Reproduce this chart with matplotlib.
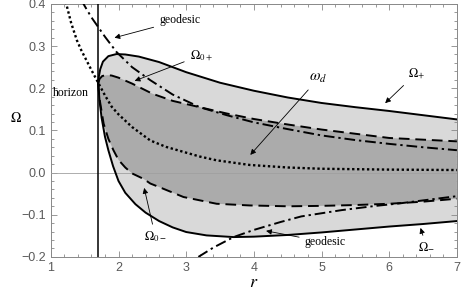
import numpy as np
import matplotlib
matplotlib.use("Agg")
import matplotlib.pyplot as plt

plt.rcParams['mathtext.fontset'] = 'stix'
plt.rcParams['font.family'] = 'Liberation Serif'

# horizon
r_h = 1.70

# outer boundary (solid)
r_plus = [1.70, 1.71, 1.73, 1.77, 1.85, 1.97, 2.1, 2.3, 2.6, 3.0, 3.5, 4.0, 4.5, 5.0, 5.5, 6.0, 6.5, 7.0]
om_plus = [0.211, 0.228, 0.245, 0.263, 0.276, 0.281, 0.280, 0.275, 0.262, 0.238, 0.213, 0.194, 0.178, 0.165, 0.155, 0.146, 0.136, 0.126]
r_minus = [1.70, 1.72, 1.75, 1.8, 1.85, 1.92, 2.0, 2.1, 2.25, 2.4, 2.6, 2.8, 3.0, 3.3, 3.7, 4.0, 4.5, 5.0, 5.5, 6.0, 6.5, 7.0]
om_minus = [0.211, 0.17, 0.13, 0.085, 0.053, 0.015, -0.02, -0.048, -0.075, -0.095, -0.115, -0.13, -0.141, -0.149, -0.153, -0.152, -0.148, -0.142, -0.135, -0.128, -0.122, -0.115]

# inner boundary (dashed)
r_0p = [1.70, 1.72, 1.76, 1.83, 1.9, 2.0, 2.2, 2.5, 2.8, 3.2, 3.6, 4.0, 4.5, 5.0, 5.5, 6.0, 6.5, 7.0]
om_0p = [0.211, 0.222, 0.229, 0.231, 0.230, 0.225, 0.211, 0.187, 0.170, 0.155, 0.140, 0.127, 0.114, 0.102, 0.092, 0.082, 0.078, 0.074]
r_0m = [1.70, 1.72, 1.75, 1.78, 1.85, 1.925, 2.0, 2.1, 2.2, 2.37, 2.47, 2.61, 2.96, 3.45, 3.94, 4.5, 5.0, 5.5, 6.0, 6.5, 7.0]
om_0m = [0.211, 0.175, 0.145, 0.116, 0.08, 0.053, 0.030, 0.012, -0.002, -0.015, -0.026, -0.035, -0.058, -0.074, -0.078, -0.080, -0.079, -0.077, -0.074, -0.069, -0.062]

# frame dragging (dotted)
r_wd = [1.22, 1.3, 1.384, 1.45, 1.53, 1.6, 1.7, 1.8, 1.9, 2.0, 2.2, 2.47, 2.7, 2.96, 3.2, 3.45, 3.94, 4.5, 5.0, 6.0, 7.0]
om_wd = [0.405, 0.355, 0.314, 0.29, 0.265, 0.243, 0.213, 0.183, 0.156, 0.138, 0.108, 0.076, 0.061, 0.049, 0.038, 0.029, 0.018, 0.012, 0.009, 0.007, 0.006]

# geodesics (dash-dot)
r_gu = [1.45, 1.5, 1.6, 1.7, 1.8, 1.97, 2.2, 2.47, 2.8, 3.2, 3.6, 4.0, 4.5, 5.0, 5.5, 6.0, 6.5, 7.0]
om_gu = [0.41, 0.395, 0.368, 0.345, 0.322, 0.286, 0.250, 0.219, 0.185, 0.155, 0.136, 0.119, 0.103, 0.088, 0.077, 0.068, 0.060, 0.053]
r_gl = [3.18, 3.4, 3.7, 4.0, 4.4, 4.7, 5.3, 5.8, 6.16, 6.5, 7.0]
om_gl = [-0.2, -0.178, -0.153, -0.136, -0.117, -0.104, -0.089, -0.079, -0.073, -0.066, -0.056]

fig = plt.figure(figsize=(4.62, 2.97), dpi=100)
ax = fig.add_axes([0.110, 0.135, 0.879, 0.852])

ax.fill(np.r_[r_plus, r_minus[::-1]], np.r_[om_plus, om_minus[::-1]], color='#d9d9d9', lw=0, zorder=1)
ax.fill(np.r_[r_0p, r_0m[::-1]], np.r_[om_0p, om_0m[::-1]], color='#ababab', lw=0, zorder=2)
ax.axhline(0, color='#a0a0a0', lw=0.6, zorder=3)

ax.plot(r_plus, om_plus, color='k', lw=1.4, zorder=5)
ax.plot(r_minus, om_minus, color='k', lw=1.4, zorder=5)
ax.plot(r_0p, om_0p, color='k', lw=1.4, dashes=(5.5, 3), zorder=5)
ax.plot(r_0m, om_0m, color='k', lw=1.4, dashes=(5.5, 3), zorder=5)
ax.plot(r_wd, om_wd, color='k', lw=1.7, dashes=(1, 1.1), zorder=5)
ax.plot(r_gu, om_gu, color='k', lw=1.4, dashes=(5.5, 2, 1.2, 2), zorder=5)
ax.plot(r_gl, om_gl, color='k', lw=1.4, dashes=(5.5, 2, 1.2, 2), zorder=5)
ax.axvline(r_h, color='k', lw=1.1, zorder=6)

arr = dict(arrowstyle='-|>', color='k', lw=0.6, mutation_scale=8)
fs = 8.5
ax.text(1.03, 0.188, 'horizon', fontsize=fs, va='center', ha='left', zorder=7)
ax.annotate('geodesic', xy=(1.90, 0.318), xytext=(2.60, 0.361), fontsize=fs,
            va='center', ha='left', arrowprops=arr, zorder=7)
ax.annotate(r'$\Omega_{0+}$', xy=(2.20, 0.215), xytext=(3.05, 0.278), fontsize=9,
            va='center', ha='left', arrowprops=arr, zorder=7)
ax.annotate(r'$\omega_d$', xy=(3.92, 0.037), xytext=(4.82, 0.223), fontsize=11,
            va='center', ha='left', arrowprops=arr, zorder=7)
ax.annotate(r'$\Omega_{+}$', xy=(5.91, 0.160), xytext=(6.27, 0.235), fontsize=9,
            va='center', ha='left', arrowprops=arr, zorder=7)
ax.annotate(r'$\Omega_{0-}$', xy=(2.37, -0.030), xytext=(2.38, -0.153), fontsize=9,
            va='center', ha='left', arrowprops=arr, zorder=7)
ax.annotate('geodesic', xy=(4.14, -0.137), xytext=(4.75, -0.165), fontsize=fs,
            va='center', ha='left', arrowprops=arr, zorder=7)
ax.annotate(r'$\Omega_{-}$', xy=(6.45, -0.125), xytext=(6.55, -0.176), fontsize=9,
            va='center', ha='center', arrowprops=arr, zorder=7)

ax.set_xlim(1, 7)
ax.set_ylim(-0.2, 0.4)
ax.set_xticks([1, 2, 3, 4, 5, 6, 7])
ax.set_yticks([-0.2, -0.1, 0.0, 0.1, 0.2, 0.3, 0.4])
ax.set_yticklabels(['\u22120.2', '\u22120.1', '0.0', '0.1', '0.2', '0.3', '0.4'])
ax.set_xticks(np.arange(1, 7.01, 0.2), minor=True)
ax.set_yticks(np.arange(-0.2, 0.401, 0.02), minor=True)
ax.tick_params(which='both', direction='in', top=True, right=True, color='#888888',
               labelcolor='#5a5a5a', labelsize=9, width=0.6)
ax.tick_params(which='major', length=4)
ax.tick_params(which='minor', length=2.2)
for lab in ax.get_xticklabels() + ax.get_yticklabels():
    lab.set_family('Liberation Sans')
for s in ax.spines.values():
    s.set_color('#888888')
    s.set_linewidth(0.7)

ax.set_xlabel(r'$r$', fontsize=13, labelpad=0)
ax.set_ylabel(r'$\Omega$', fontsize=10, rotation=0, labelpad=14)
ax.yaxis.set_label_coords(-0.085, 0.52)

fig.savefig('out.png', dpi=100)
